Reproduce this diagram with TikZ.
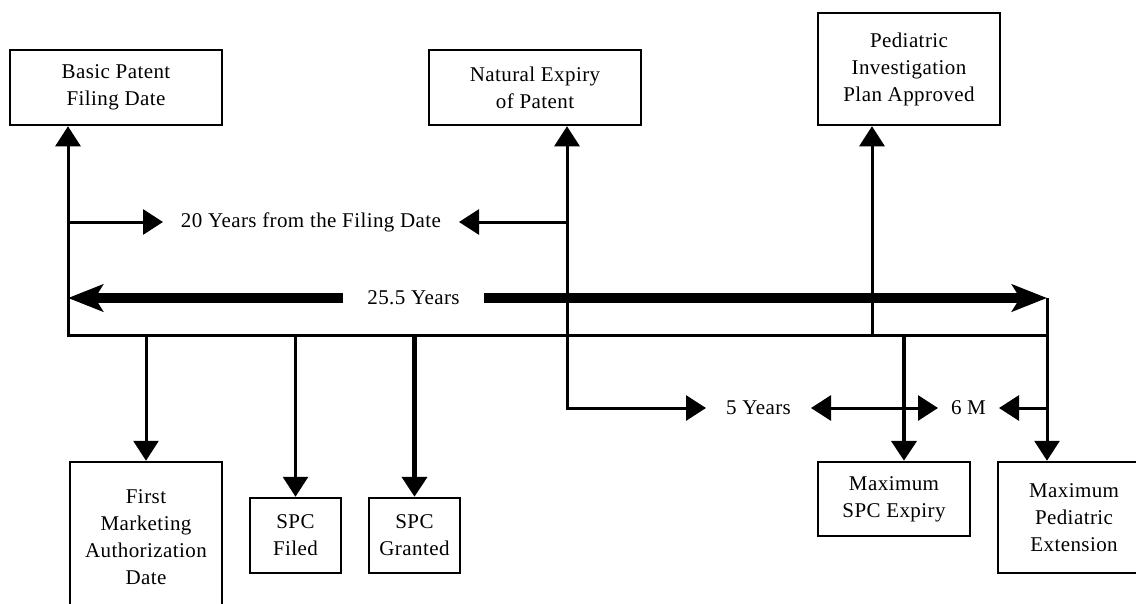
\documentclass[tikz,border=0pt]{standalone}
\usepackage{fontspec}
\setmainfont[LetterSpace=2]{Liberation Serif}
\usetikzlibrary{arrows.meta}
\begin{document}
\begin{tikzpicture}[x=1pt,y=-1pt,every node/.style={font=\fontsize{21}{27}\selectfont},
  box/.style={draw,line width=2.5pt,align=center,inner sep=0pt},
  lbl/.style={inner sep=0pt,outer sep=0pt,minimum height=20pt},
  link/.style={line width=3pt},
  arr/.style={link,-{Triangle[length=20pt,width=25pt]}},
  dbl/.style={link,{Triangle[length=20pt,width=25pt]}-{Triangle[length=20pt,width=25pt]}},
  big/.style={line width=10pt,-{Stealth[length=35pt,width=27pt,inset=8pt]}}]
  \useasboundingbox (0,0) rectangle (1136,603);
  \clip (0,0) rectangle (1136,603);
  \fill[white] (0,0) rectangle (1136,603);
  \node[box,minimum width=212pt,minimum height=75pt] (basic) at (116,87.5) {Basic Patent\\Filing Date};
  \node[box,minimum width=212pt,minimum height=75pt] (natural) at (535,87.5) {Natural Expiry\\of Patent};
  \node[box,minimum width=182pt,minimum height=112pt] (pip) at (909,69) {Pediatric\\Investigation\\Plan Approved};
  \node[box,minimum width=152pt,minimum height=150pt] (fma) at (146,537) {First\\Marketing\\Authorization\\Date};
  \node[box,minimum width=91pt,minimum height=75pt] (spcfiled) at (295.5,535.5) {SPC\\Filed};
  \node[box,minimum width=91pt,minimum height=75pt] (spcgranted) at (414.5,535.5) {SPC\\Granted};
  \node[box,minimum width=152pt,minimum height=74pt] (maxspc) at (894,499) {Maximum\\SPC Expiry};
  \node[box,minimum width=152pt,minimum height=111pt] (maxped) at (1074,517.5) {Maximum\\Pediatric\\Extension};
  \node[lbl,minimum width=296pt] (yrs20) at (311,222) {20 Years from the Filing Date};
  \node[lbl,minimum width=141pt] (yrs25) at (413.5,298) {25.5 Years};
  \node[lbl,minimum width=105pt] (yrs5) at (758.5,408) {5 Years};
  \node[lbl,minimum width=61pt] (m6) at (968.5,408) {6 M};
  \coordinate (t0) at (68,335);
  \coordinate (r0) at (1047,298);
  \coordinate (n5) at (567,408);
  \coordinate (p0) at (872,335);
  \coordinate (s0) at (904,335);
  \draw[dbl] (t0 |- basic.south) -- (t0) -- (t0 -| r0) -- (r0 |- maxped.north);
  \draw[link] (r0) -- (r0 |- t0);
  \draw[dbl] (n5 |- natural.south) |- (yrs5);
  \draw[arr] (t0 |- yrs20) -- (yrs20);
  \draw[arr] (n5 |- yrs20) -- (yrs20);
  \draw[big] (yrs25) -- (yrs25 -| t0);
  \draw[big] (yrs25) -- (r0);
  \draw[arr] (p0) -- (p0 |- pip.south);
  \foreach \n in {fma,spcfiled}
    \draw[arr] (\n.north |- t0) -- (\n.north);
  \draw[arr,line width=4.5pt] (spcgranted.north |- t0) -- (spcgranted.north);
  \draw[arr,line width=4.5pt] (s0) -- (s0 |- maxspc.north);
  \draw[dbl] (yrs5) -- (m6);
  \draw[arr] (r0 |- m6) -- (m6);
\end{tikzpicture}
\end{document}
